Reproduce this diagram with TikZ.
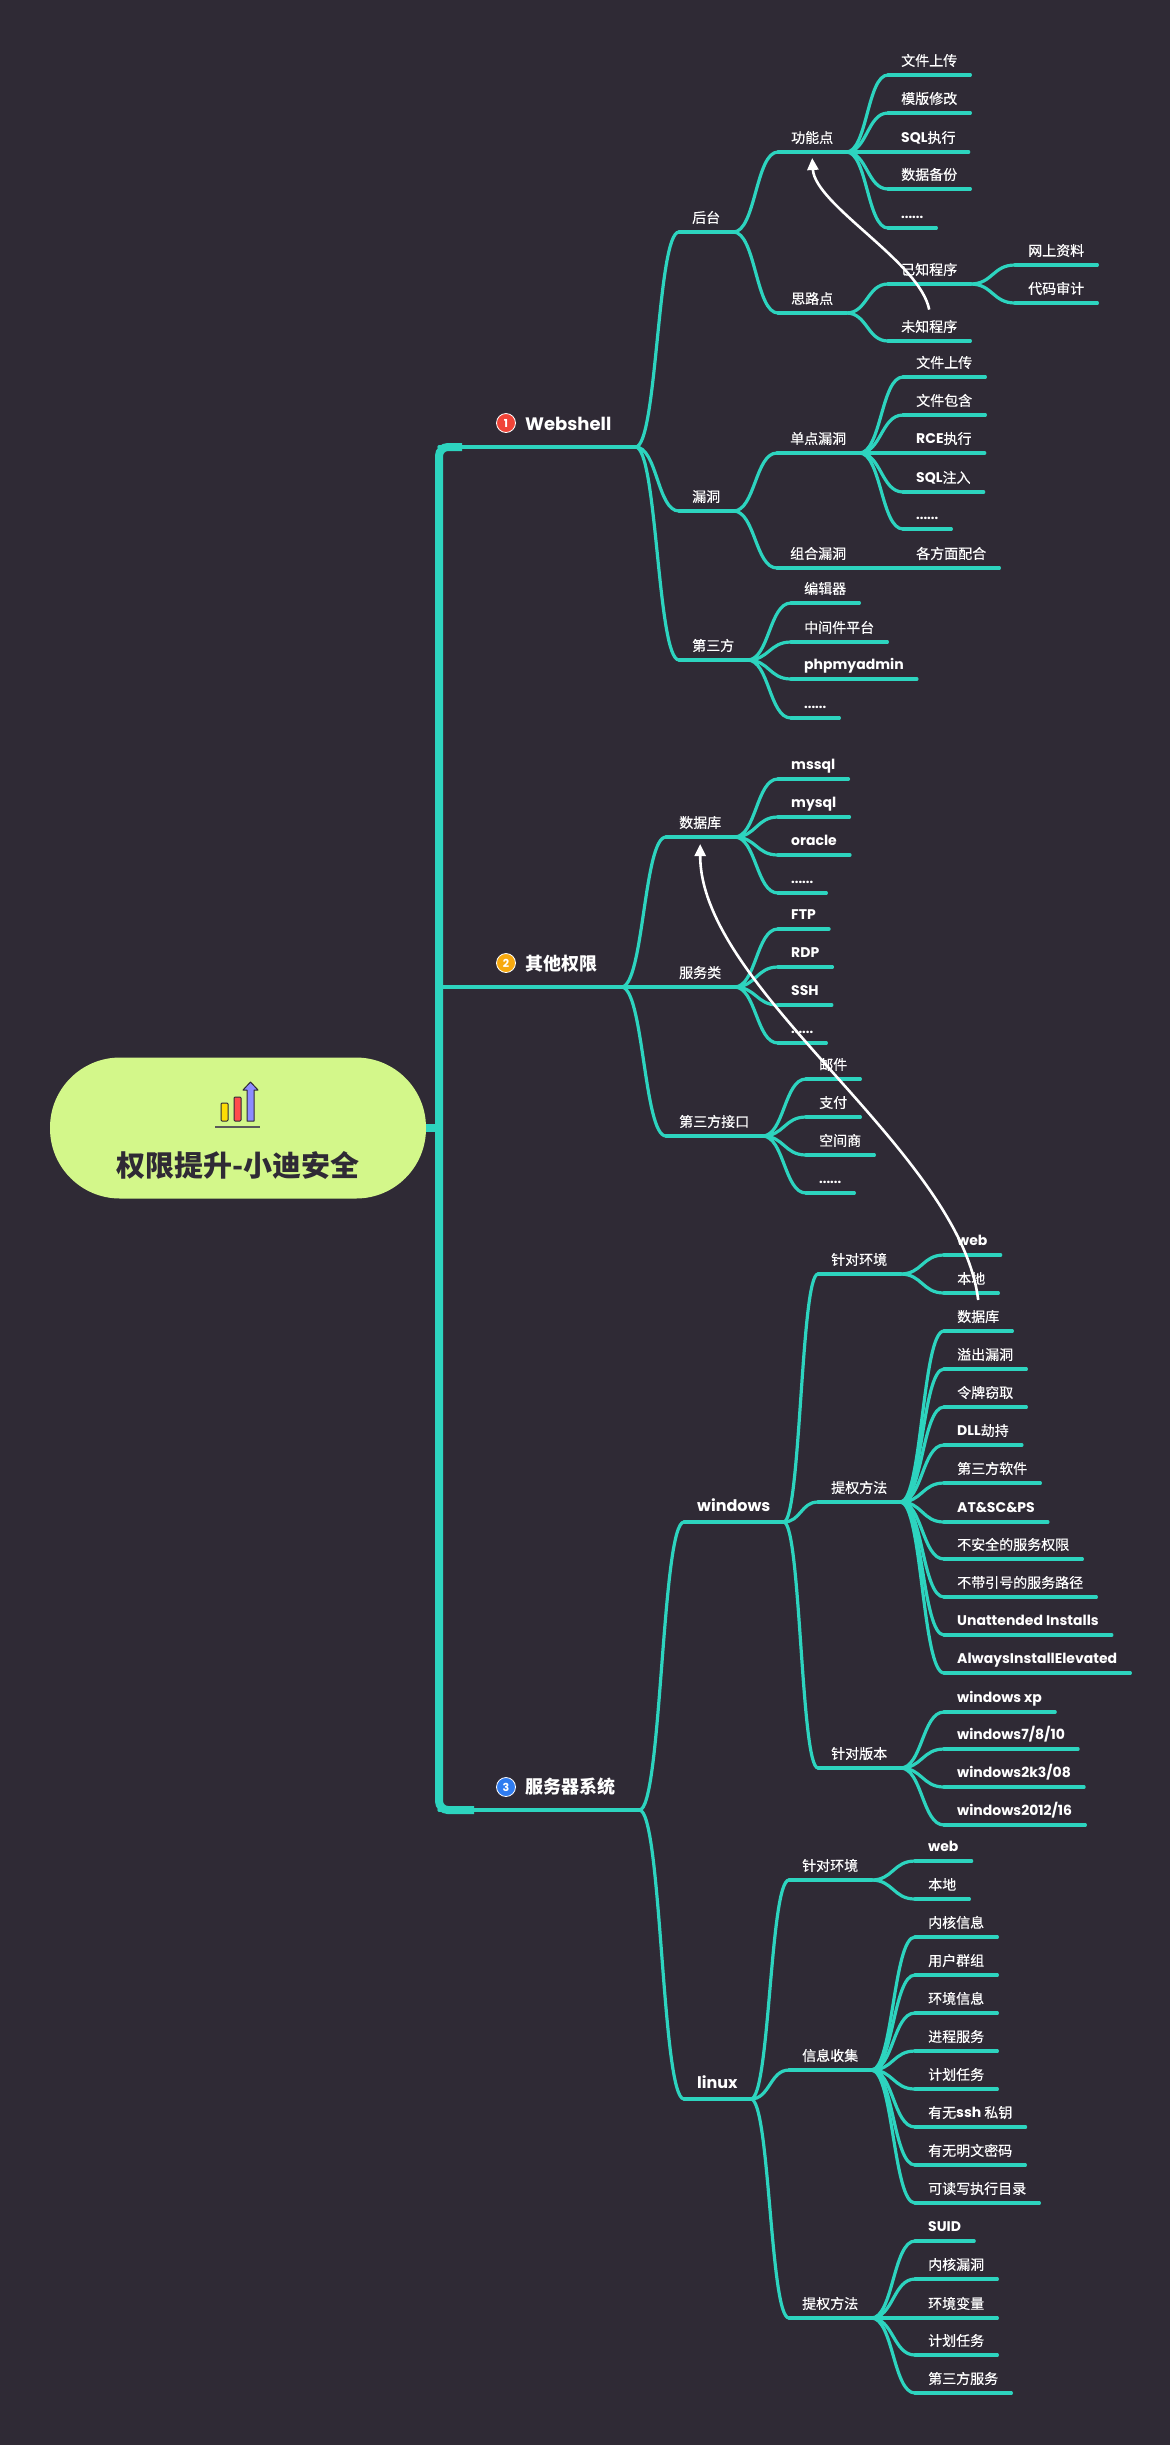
\documentclass[tikz,border=0pt]{standalone}
\usepackage{fontspec}
\setmainfont{Noto Sans CJK SC}[UprightFeatures={FakeBold=0.4}]
\newfontfamily\latb{Poppins}
\newcommand\lat{\latb\bfseries}
\newcommand\dotsx{{\latb\bfseries\fontsize{13}{15}\selectfont ......}}
\usetikzlibrary{calc,arrows.meta}
\definecolor{bg}{HTML}{2F2A35}
\definecolor{mmteal}{HTML}{2DD4BF}
\definecolor{rootfill}{HTML}{D3F78A}
\definecolor{rootink}{HTML}{2F2A35}
\definecolor{numred}{HTML}{F04438}
\definecolor{numorange}{HTML}{F7A90F}
\definecolor{numblue}{HTML}{2F7CF0}
\tikzset{
  lab/.style={anchor=south west, inner xsep=13pt, inner ysep=6pt, text height=11pt, text depth=3pt,
    font=\fontsize{14}{16}\selectfont, text=white},
  big/.style={font=\latb\bfseries\fontsize{16}{18}\selectfont, inner ysep=7pt, text height=12pt},
  ul/.style={draw=mmteal, line width=3.2pt, line cap=round},
  br/.style={draw=mmteal, line width=3.2pt, line cap=round},
  trunk/.style={draw=mmteal, line width=8pt},
  l1/.style={anchor=base west, inner sep=0pt, font=\bfseries\fontsize{18}{20}\selectfont, text=white},
  num/.style={circle, inner sep=0pt, minimum size=19pt, draw=white, line width=0.8pt,
    font=\latb\bfseries\fontsize{11}{11}\selectfont, text=white},
  root/.style={fill=rootfill, draw=none, minimum width=376pt, minimum height=141pt, rounded corners=70pt, inner sep=0pt},
  warrow/.style={draw=white, line width=2.6pt, -{Triangle[width=11pt,length=12pt]}},
}
\newcommand\mm[6][]{%
  \node[lab,#1] (#2) at (#4,#5) {#6};
  \draw[br] let \p1=(#3), \p2=(#2.south west), \n1={(\x2-\x1)/2} in (\p1) .. controls +(\n1,0) and +(-\n1,0) .. (\p2);
  \draw[ul] (#2.south west) -- (#2.south east);
}
\begin{document}
\begin{tikzpicture}[x=1pt,y=-1pt]
\fill[bg] (0,0) rectangle (1170,2445);
\useasboundingbox (0,0) rectangle (1170,2445);

% trunk
\coordinate (T1) at (439,447);
\coordinate (T2) at (439,987);
\coordinate (T3) at (439,1810);
\draw[trunk, rounded corners=9pt] (462,447) -- (T1) -- (T3) -- (474,1810);

% root
\node[root] (root) at (238,1128) {};
\node[font=\bfseries\fontsize{29}{31}\selectfont, text=rootink, inner sep=0pt] (rootlab) at (238,1165) {权限提升-小迪安全};
\draw[trunk] (root.east) -- (root.east -| T1);
% icon
\draw[rootink, line width=1pt, fill=yellow!80!orange, rounded corners=1pt] (221,1103) rectangle (228,1121);
\draw[rootink, line width=1pt, fill=red!70!white, rounded corners=1pt] (234,1097) rectangle (241,1121);
\draw[rootink, line width=1pt, fill=blue!45!white, line join=round] (247,1121) -- (247,1090) -- (243,1090) -- (250.5,1082) -- (258,1090) -- (254,1090) -- (254,1121) -- cycle;
\draw[black!65, line width=1.6pt] (215,1127) -- (260,1127);

% level 1
\node[l1] (ws) at (525,430) {{\latb Webshell}};
\node[num, fill=numred] (wsn) at (506,423) {1};
\coordinate (wsE) at ($(ws.base east)+(24,17)$);
\draw[br] (T1) -- (wsE);

\node[l1] (qt) at (525,970) {其他权限};
\node[num, fill=numorange] (qtn) at (506,963) {2};
\coordinate (qtE) at ($(qt.base east)+(24,17)$);
\draw[br] (T2) -- (qtE);

\node[l1] (fwq) at (525,1793) {服务器系统};
\node[num, fill=numblue] (fwqn) at (506,1787) {3};
\coordinate (fwE) at ($(fwq.base east)+(24,17)$);
\draw[br] (T3) -- (fwE);

% ---- Webshell
\mm{ht}{wsE}{679}{232}{后台}
\mm{gn}{ht.south east}{778}{152}{功能点}
\mm{gn1}{gn.south east}{888}{75}{文件上传}
\mm{gn2}{gn.south east}{888}{113}{模版修改}
\mm{gn3}{gn.south east}{888}{152}{{\lat SQL}执行}
\mm{gn4}{gn.south east}{888}{189}{数据备份}
\mm{gn5}{gn.south east}{888}{228}{\dotsx}
\mm{sl}{ht.south east}{778}{313}{思路点}
\mm{yz}{sl.south east}{888}{284}{已知程序}
\mm{yz1}{yz.south east}{1015}{265}{网上资料}
\mm{yz2}{yz.south east}{1015}{303}{代码审计}
\mm{wz}{sl.south east}{888}{341}{未知程序}
\mm{ld}{wsE}{679}{511}{漏洞}
\mm{dd}{ld.south east}{777}{453}{单点漏洞}
\mm{dd1}{dd.south east}{903}{377}{文件上传}
\mm{dd2}{dd.south east}{903}{415}{文件包含}
\mm{dd3}{dd.south east}{903}{453}{{\lat RCE}执行}
\mm{dd4}{dd.south east}{903}{492}{{\lat SQL}注入}
\mm{dd5}{dd.south east}{903}{529}{\dotsx}
\mm{zh}{ld.south east}{777}{568}{组合漏洞}
\mm{zh1}{zh.south east}{903}{568}{各方面配合}
\mm{sf}{wsE}{679}{660}{第三方}
\mm{sf1}{sf.south east}{791}{603}{编辑器}
\mm{sf2}{sf.south east}{791}{642}{中间件平台}
\mm{sf3}{sf.south east}{791}{679}{{\lat phpmyadmin}}
\mm{sf4}{sf.south east}{791}{718}{\dotsx}

% ---- 其他权限
\mm{sjk}{qtE}{666}{837}{数据库}
\mm{sjk1}{sjk.south east}{778}{779}{{\lat mssql}}
\mm{sjk2}{sjk.south east}{778}{817}{{\lat mysql}}
\mm{sjk3}{sjk.south east}{778}{855}{{\lat oracle}}
\mm{sjk4}{sjk.south east}{778}{893}{\dotsx}
\mm{fwl}{qtE}{666}{987}{服务类}
\mm{fwl1}{fwl.south east}{778}{929}{{\lat FTP}}
\mm{fwl2}{fwl.south east}{778}{967}{{\lat RDP}}
\mm{fwl3}{fwl.south east}{778}{1005}{{\lat SSH}}
\mm{fwl4}{fwl.south east}{778}{1043}{\dotsx}
\mm{jk}{qtE}{666}{1136}{第三方接口}
\mm{jk1}{jk.south east}{806}{1079}{邮件}
\mm{jk2}{jk.south east}{806}{1117}{支付}
\mm{jk3}{jk.south east}{806}{1155}{空间商}
\mm{jk4}{jk.south east}{806}{1193}{\dotsx}

% ---- 服务器系统 / windows
\mm[big]{win}{fwE}{684}{1522}{windows}
\mm{wenv}{win.south east}{818}{1274}{针对环境}
\mm{wenv1}{wenv.south east}{944}{1255}{{\lat web}}
\mm{wenv2}{wenv.south east}{944}{1293}{本地}
\mm{wtq}{win.south east}{818}{1502}{提权方法}
\mm{wtq1}{wtq.south east}{944}{1331}{数据库}
\mm{wtq2}{wtq.south east}{944}{1369}{溢出漏洞}
\mm{wtq3}{wtq.south east}{944}{1407}{令牌窃取}
\mm{wtq4}{wtq.south east}{944}{1445}{{\lat DLL}劫持}
\mm{wtq5}{wtq.south east}{944}{1483}{第三方软件}
\mm{wtq6}{wtq.south east}{944}{1522}{{\lat AT\&SC\&PS}}
\mm{wtq7}{wtq.south east}{944}{1559}{不安全的服务权限}
\mm{wtq8}{wtq.south east}{944}{1597}{不带引号的服务路径}
\mm{wtq9}{wtq.south east}{944}{1635}{{\lat Unattended Installs}}
\mm{wtq10}{wtq.south east}{944}{1673}{{\lat AlwaysInstallElevated}}
\mm{wver}{win.south east}{818}{1768}{针对版本}
\mm{wver1}{wver.south east}{944}{1712}{{\lat windows xp}}
\mm{wver2}{wver.south east}{944}{1749}{{\lat windows7/8/10}}
\mm{wver3}{wver.south east}{944}{1787}{{\lat windows2k3/08}}
\mm{wver4}{wver.south east}{944}{1825}{{\lat windows2012/16}}

% ---- linux
\mm[big]{lin}{fwE}{684}{2099}{linux}
\mm{lenv}{lin.south east}{789}{1880}{针对环境}
\mm{lenv1}{lenv.south east}{915}{1861}{{\lat web}}
\mm{lenv2}{lenv.south east}{915}{1899}{本地}
\mm{lxx}{lin.south east}{789}{2070}{信息收集}
\mm{lxx1}{lxx.south east}{915}{1937}{内核信息}
\mm{lxx2}{lxx.south east}{915}{1975}{用户群组}
\mm{lxx3}{lxx.south east}{915}{2013}{环境信息}
\mm{lxx4}{lxx.south east}{915}{2051}{进程服务}
\mm{lxx5}{lxx.south east}{915}{2089}{计划任务}
\mm{lxx6}{lxx.south east}{915}{2127}{有无{\lat ssh} 私钥}
\mm{lxx7}{lxx.south east}{915}{2165}{有无明文密码}
\mm{lxx8}{lxx.south east}{915}{2203}{可读写执行目录}
\mm{ltq}{lin.south east}{789}{2318}{提权方法}
\mm{ltq1}{ltq.south east}{915}{2241}{{\lat SUID}}
\mm{ltq2}{ltq.south east}{915}{2279}{内核漏洞}
\mm{ltq3}{ltq.south east}{915}{2318}{环境变量}
\mm{ltq4}{ltq.south east}{915}{2355}{计划任务}
\mm{ltq5}{ltq.south east}{915}{2393}{第三方服务}

% ---- white arrows
\draw[warrow] ([yshift=5pt]wz.north) .. controls (920,262) and (815,205) .. ([yshift=-6pt]gn.south);
\draw[warrow] ([xshift=7pt,yshift=-7pt]wenv2.south) .. controls (960,1150) and (700,990) .. ([yshift=-7pt]sjk.south);
\end{tikzpicture}
\end{document}
